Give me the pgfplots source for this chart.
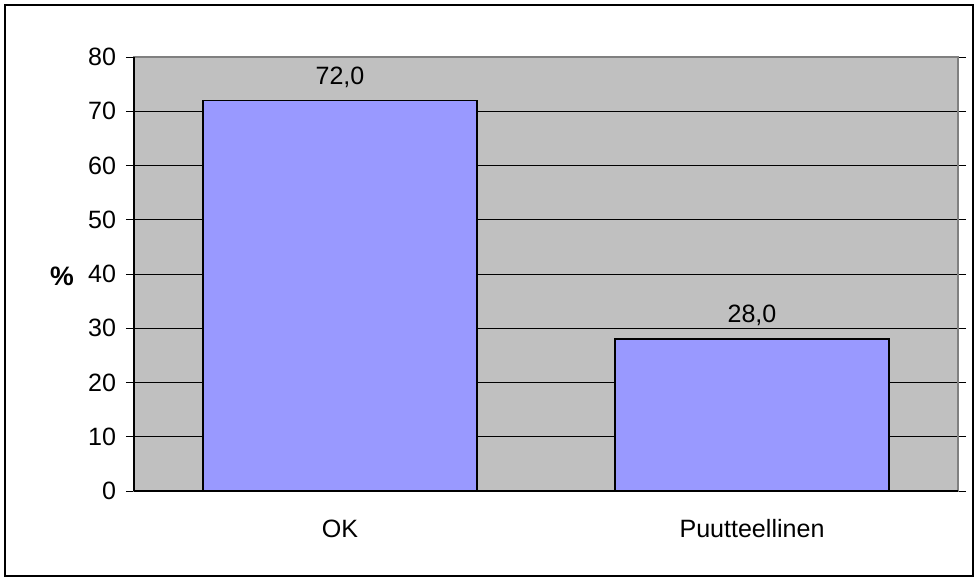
\documentclass[border=0pt]{standalone}
\usepackage{pgfplots}
\pgfplotsset{compat=1.18}
\usepackage{fontspec}
\setmainfont{Liberation Sans}
\definecolor{barblue}{HTML}{9999FF}
\definecolor{plotgray}{HTML}{C0C0C0}

\begin{document}
\begin{tikzpicture}
	% page size and outer frame (1px = 0.75pt)
	\useasboundingbox (-100.5pt,-65.25pt) rectangle (630.75pt,368.25pt);
	\draw[black, line width=0.8pt] (-96.75pt,-63.75pt) rectangle (629.25pt,364.5pt);

	\begin{axis}[
		at						= {(0,0)},
		anchor					= south west,
		scale only axis,
		width					= 618pt,
		height					= 325.5pt,
		xmin = -0.5, xmax = 1.5,
		ymin = 0, ymax = 80,
		ytick					= {0,10,...,80},
		xtick					= {0,1},
		xticklabels				= {OK, Puutteellinen},
		extra x ticks			= {-0.5,0.5,1.5},
		extra x tick labels		= {},
		extra x tick style		= {major tick length=6pt, tick style={black, line width=0.6pt}},
		major x tick style		= {draw=none},
		tick align				= outside,
		major tick length		= 6pt,
		ytick style				= {black, line width=0.6pt},
		ymajorgrids,
		grid style				= {black, line width=0.5pt},
		axis background/.style	= {fill=plotgray},
		axis line style			= {draw=gray, line width=0.8pt},
		/pgf/number format/assume math mode=true,
		tick label style		= {font=\fontsize{18.8}{22}\selectfont},
		xticklabel style		= {yshift=-12pt},
		yticklabel style		= {xshift=-4pt},
		ylabel					= {\textbf{\%}},
		ylabel style			= {rotate=-90, at={(axis description cs:-0.0874,0.495)}, anchor=center, font=\fontsize{20}{22}\selectfont},
		nodes near coords		= {\pgfmathprintnumber[fixed,fixed zerofill,precision=1,use comma,assume math mode=true]{\pgfplotspointmeta}},
		every node near coord/.append style = {font=\fontsize{18.8}{22}\selectfont, yshift=6pt},
		clip					= false
	]
		\addplot[ybar, bar width=205.5pt, fill=barblue, draw=black, line width=1.1pt] coordinates {
			(0,72.0) (1,28.0)
		};
		% excel style black axes on left and bottom
		\draw[black, line width=1pt] (rel axis cs:0,0) -- (rel axis cs:0,1);
		\draw[black, line width=1pt] (rel axis cs:0,0) -- (rel axis cs:1,0);
	\end{axis}
\end{tikzpicture}
\end{document}
